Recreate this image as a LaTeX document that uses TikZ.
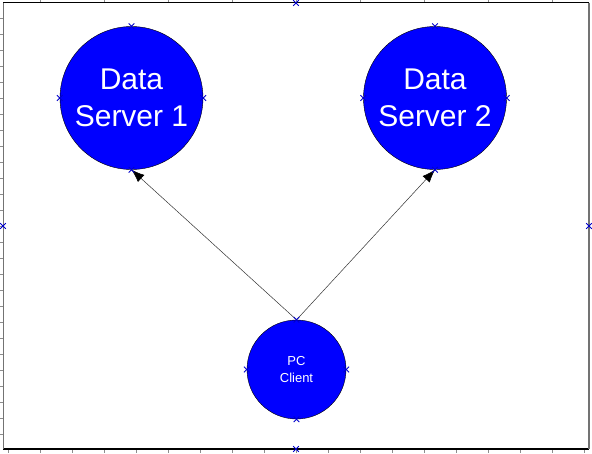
\documentclass[tikz,border=0pt]{standalone}
\usepackage{fontspec}
\setmainfont{Liberation Sans}
\usetikzlibrary{arrows.meta,calc}

\newcommand{\conpt}[1]{%
  \draw[blue!80!black, line width=0.8pt] ($(#1)+(-2.8,-2.8)$) -- ($(#1)+(2.8,2.8)$)
        ($(#1)+(-2.8,2.8)$) -- ($(#1)+(2.8,-2.8)$);}

\begin{document}
\begin{tikzpicture}[
    x=1pt, y=-1pt,
    >={Latex[length=13pt,width=9.5pt,black]},
    server/.style={circle, draw=black, fill=blue, text=white, inner sep=0pt,
                   minimum size=143pt, align=center,
                   font=\fontsize{30}{37}\selectfont},
    client/.style={circle, draw=black, fill=blue, text=white, inner sep=0pt,
                   minimum size=99pt, align=center,
                   font=\fontsize{13}{17}\selectfont},
    link/.style={->, draw=black!80, line width=0.5pt},
]
\useasboundingbox (0,0) rectangle (592,453);

% frame with ruler ticks
\foreach \y in {18,34,...,434} \draw[black!45] (0,\y) -- (3,\y);
\foreach \x in {8,40,...,584} \draw[black!45] (\x,449) -- (\x,453);
\foreach \x in {40,104,...,584} \draw[black!45] (\x,0) -- (\x,2.5);
\draw[black, line width=1.2pt] (3,2.5) -- (589,2.5);
\draw[black, line width=1.2pt] (3,449) -- (589,449);
\draw[black!55, line width=1.6pt] (3.5,2.5) -- (3.5,449);
\draw[black!55, line width=1.6pt] (589,2.5) -- (589,449);
\coordinate (ftop) at (296,3);
\coordinate (fbot) at (296,449);
\coordinate (fleft) at (3,226);
\coordinate (fright) at (589,226);

% servers and client
\node[server] (ds1) at (131.5,98) {Data\\Server 1};
\node[server] (ds2) at (435,98) {Data\\Server 2};
\node[client] (pc) at (296.5,369.5) {PC\\Client};

% connections
\draw[link] (pc.north) -- (ds1.south);
\draw[link] (pc.north) -- (ds2.south);

% connection points
\foreach \n in {ds1,ds2,pc}{
  \foreach \a in {north,south,east,west}{
    \conpt{\n.\a}
  }
}
\foreach \c in {ftop,fbot,fleft,fright}{\conpt{\c}}

\end{tikzpicture}
\end{document}
